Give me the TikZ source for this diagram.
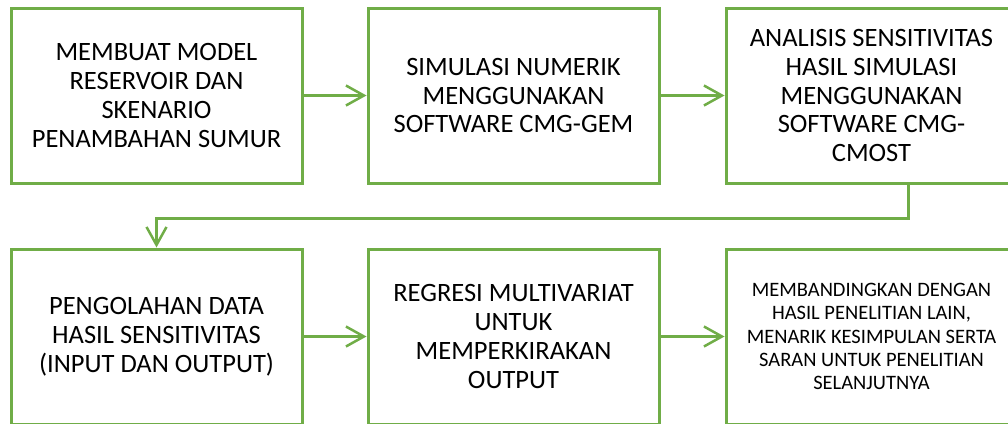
\documentclass[tikz,border=0pt]{standalone}
\usepackage{fontspec}
\setmainfont{Carlito}
\usepackage{xcolor}
\usetikzlibrary{arrows.meta}
\definecolor{stepgreen}{HTML}{70AD47}

\begin{document}
\begin{tikzpicture}[x=1pt,y=-1pt,
    stepbox/.style={draw=stepgreen,line width=3pt,minimum width=291pt,minimum height=175pt,align=center,inner sep=0pt,font=\fontsize{26.5}{28.8}\selectfont},
    flow/.style={draw=stepgreen,line width=2.5pt,-{Straight Barb[length=18pt,width=20pt,line width=2.5pt]}}]
    \useasboundingbox (0,0) rectangle (1008,423);

    \node[stepbox] (model) at (156.5,95.5) {MEMBUAT MODEL\\RESERVOIR DAN\\SKENARIO\\PENAMBAHAN SUMUR};
    \node[stepbox] (simulasi) at (513.5,95.5) {SIMULASI NUMERIK\\MENGGUNAKAN\\SOFTWARE CMG-GEM};
    \node[stepbox] (analisis) at (871.5,95.5) {ANALISIS SENSITIVITAS\\HASIL SIMULASI\\MENGGUNAKAN\\SOFTWARE CMG-\\CMOST};

    \node[stepbox] (olah) at (156.5,336.5) {PENGOLAHAN DATA\\HASIL SENSITIVITAS\\(INPUT DAN OUTPUT)};
    \node[stepbox] (regresi) at (513.5,336.5) {REGRESI MULTIVARIAT\\UNTUK\\MEMPERKIRAKAN\\OUTPUT};
    \node[stepbox,font=\fontsize{20.5}{23.3}\selectfont] (banding) at (871.5,336.5) {MEMBANDINGKAN DENGAN\\HASIL PENELITIAN LAIN,\\MENARIK KESIMPULAN SERTA\\SARAN UNTUK PENELITIAN\\SELANJUTNYA};

    \draw[flow] (model) -- (simulasi);
    \draw[flow] (simulasi) -- (analisis);
    \draw[flow] ([xshift=37pt]analisis.south) -- ++(0,34) -| (olah.north);
    \draw[flow] (olah) -- (regresi);
    \draw[flow] (regresi) -- (banding);
\end{tikzpicture}
\end{document}
